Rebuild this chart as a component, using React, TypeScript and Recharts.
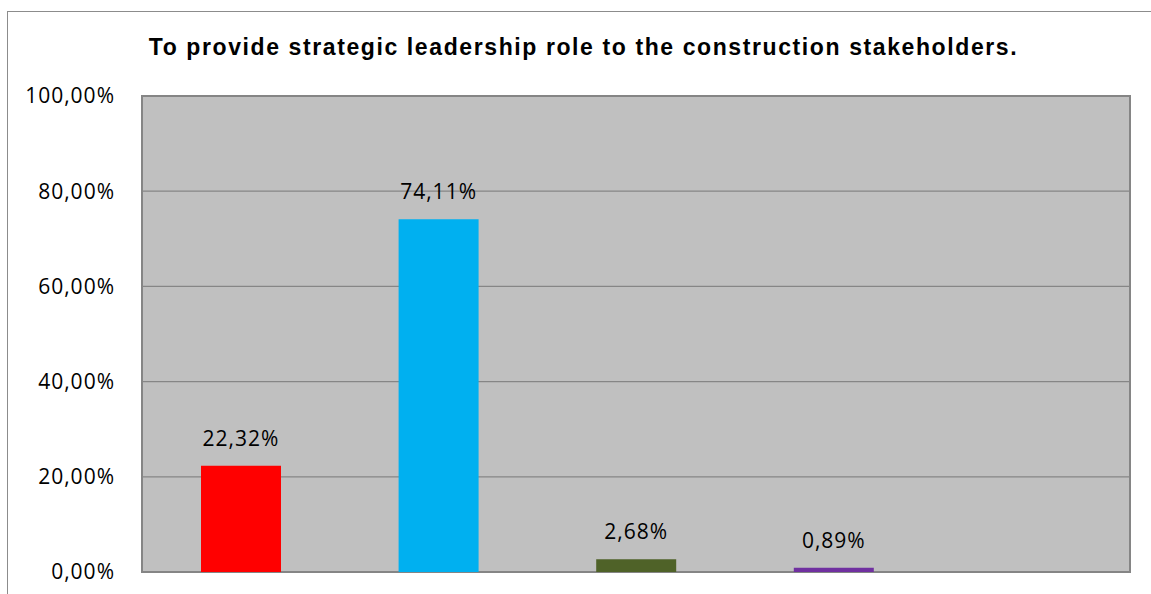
import { BarChart, Bar, XAxis, YAxis, CartesianGrid, Cell, LabelList, ReferenceArea } from "recharts";

const categories = ["Strongly agree", "Agree", "Neutral", "Disagree", "Strongly disagree"];
const shares: (number | null)[] = [22.32, 74.11, 2.68, 0.89, null];
const barColors = ["#FF0000", "#00B0F0", "#4F6228", "#7030A0", "#7F7F7F"];
const yTicks = [0, 20, 40, 60, 80, 100];

const title = "To provide strategic leadership role to the construction stakeholders.";

const data = categories.map((name, i) => ({ name, value: shares[i] }));

function formatPct(val: number | null | undefined): string {
  if (val === null || val === undefined) return "";
  return val.toFixed(2).replace(".", ",") + "%";
}

export default function App() {
  return (
    <div
      style={{
        position: "fixed",
        left: 0,
        top: 0,
        width: 1151,
        height: 594,
        overflow: "hidden",
        background: "#FFFFFF",
      }}
    >
      <div
        style={{
          position: "absolute",
          left: 7,
          top: 11,
          width: 1300,
          height: 800,
          border: "1px solid #8C8C8C",
        }}
      />
      <div
        style={{
          position: "absolute",
          left: 0,
          top: 33,
          width: 1167,
          textAlign: "center",
          fontFamily: "'Liberation Sans', Arial, sans-serif",
          fontWeight: "bold",
          fontSize: 23,
          letterSpacing: 1.6,
          color: "#000000",
          lineHeight: "28px",
        }}
      >
        {title}
      </div>
      <div style={{ position: "absolute", left: 0, top: 0 }}>
        <BarChart
          width={1151}
          height={594}
          data={data}
          margin={{ top: 96, right: 21, bottom: 22, left: 0 }}
        >
          <CartesianGrid vertical={false} fill="#C0C0C0" stroke="#868686" strokeWidth={1.3} />
          <XAxis dataKey="name" hide />
          <YAxis
            domain={[0, 100]}
            ticks={yTicks}
            width={142}
            axisLine={false}
            tickLine={false}
            tickSize={0}
            tickMargin={27}
            tickFormatter={(v: number) => formatPct(v)}
            tick={{ fill: "#000000", fontSize: 21, fontFamily: "'Open Sans', sans-serif", letterSpacing: 1 }}
          />
          <ReferenceArea y1={0} y2={100} fill="none" stroke="#858585" strokeWidth={2} ifOverflow="visible" />
          <Bar dataKey="value" barSize={80} isAnimationActive={false}>
            {data.map((d, i) => (
              <Cell key={d.name} fill={barColors[i]} />
            ))}
            <LabelList
              dataKey="value"
              position="top"
              offset={20}
              formatter={(v: any) => formatPct(v)}
              style={{ fill: "#000000", fontSize: 21, fontFamily: "'Open Sans', sans-serif", letterSpacing: 1 }}
            />
          </Bar>
        </BarChart>
      </div>
    </div>
  );
}
